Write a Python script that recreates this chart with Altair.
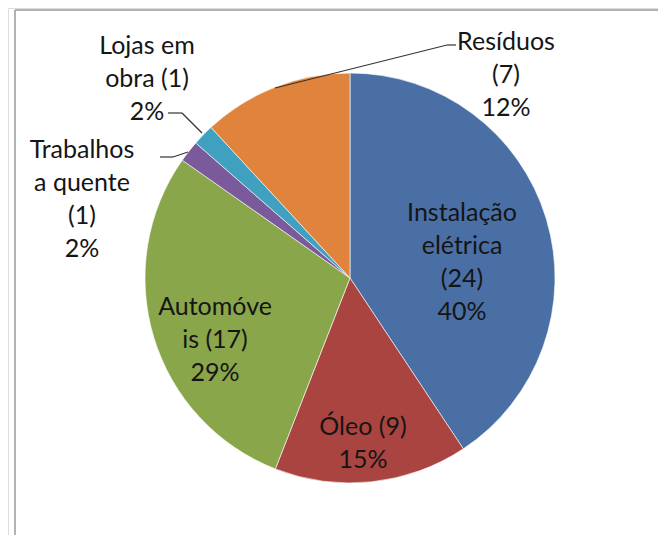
import altair as alt
import pandas as pd

# ---- data ----
categories = ["Instalação elétrica", "Óleo", "Automóveis", "Trabalhos a quente", "Lojas em obra", "Resíduos"]
counts = [24, 9, 17, 1, 1, 7]
percents = [40, 15, 29, 2, 2, 12]
label_texts = [
    "Instalação\nelétrica\n(24)\n40%",
    "Óleo (9)\n15%",
    "Automóve\nis (17)\n29%",
    "Trabalhos\na quente\n(1)\n2%",
    "Lojas em\nobra (1)\n2%",
    "Resíduos\n(7)\n12%",
]
colors = ["#4A6FA5", "#AA4440", "#8AA64B", "#7A5A9A", "#3FA0BF", "#E0843D"]

df = pd.DataFrame({
    "cat": categories,
    "count": counts,
    "pct": percents,
    "label": label_texts,
    "idx": list(range(len(categories))),
})

W, H = 650, 527
CX, CY, R = 342, 270, 205
FONT = "Lato"
FS = 25

base = alt.Chart(df)

pie = base.mark_arc(outerRadius=R, stroke="#ffffff", strokeWidth=0.6).encode(
    theta=alt.Theta("count:Q", stack=True),
    order=alt.Order("idx:Q"),
    color=alt.Color("cat:N", scale=alt.Scale(domain=categories, range=colors), legend=None),
    x=alt.value(CX),
    y=alt.value(CY),
)

# label placement (layout, not data): centre x and first-line y
label_pos = {
    "Instalação elétrica": (454, 205),
    "Óleo": (355, 419),
    "Automóveis": (207, 299),
    "Trabalhos a quente": (74, 142),
    "Lojas em obra": (139, 38),
    "Resíduos": (498, 34),
}

layers = [pie]
for c in categories:
    px, py = label_pos[c]
    layers.append(
        base.transform_filter(alt.datum.cat == c)
        .mark_text(font=FONT, fontSize=FS, color="#151515", lineBreak="\n",
                   lineHeight=33, align="center", baseline="middle")
        .encode(x=alt.value(px), y=alt.value(py), text="label:N")
    )

one = pd.DataFrame({"k": [0]})
segments = [
    (439, 37, 267, 80), (439, 37, 448, 37),
    (160, 105, 174, 105), (174, 105, 194, 125),
    (152, 149, 165, 149), (165, 149, 180, 144),
]
for x1, y1, x2, y2 in segments:
    layers.append(
        alt.Chart(one).mark_rule(color="#333333", strokeWidth=1.2).encode(
            x=alt.value(x1), y=alt.value(y1), x2=alt.value(x2), y2=alt.value(y2)
        )
    )

# chart frame (top and left edges)
layers.append(
    alt.Chart(one).mark_rule(color="#9a9a9a", strokeWidth=1.5).encode(
        x=alt.value(7), y=alt.value(2), x2=alt.value(W), y2=alt.value(2)
    )
)
layers.append(
    alt.Chart(one).mark_rule(color="#9a9a9a", strokeWidth=1.5).encode(
        x=alt.value(7), y=alt.value(2), x2=alt.value(7), y2=alt.value(H)
    )
)

chart = alt.layer(*layers).properties(
    width=W, height=H,
    padding={"left": 0, "top": 0, "right": 0, "bottom": 0},
    autosize=alt.AutoSizeParams(type="none"),
).configure_view(stroke=None).configure(background="#ffffff")

chart.save("out.html", embed_options={"renderer": "svg", "actions": False})
